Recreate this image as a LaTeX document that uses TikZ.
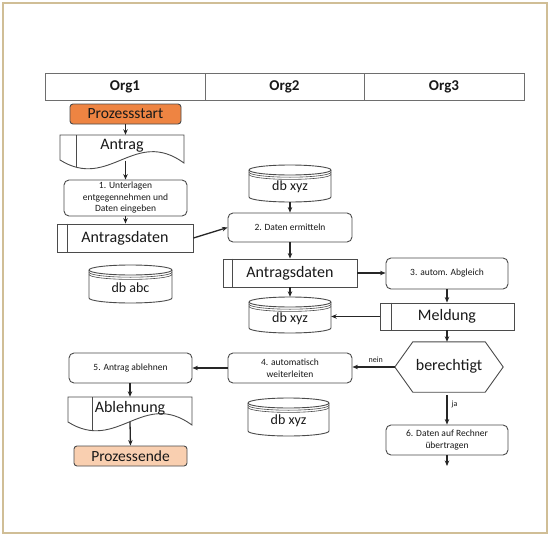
\documentclass[tikz,border=0pt]{standalone}
\usepackage{fontspec}
\setmainfont{Carlito}
\usetikzlibrary{arrows.meta,calc}
\definecolor{ln}{RGB}{75,75,75}
\definecolor{hdrln}{RGB}{110,110,110}
\definecolor{frm}{RGB}{208,190,150}
\definecolor{orangeA}{RGB}{238,132,66}
\definecolor{orangeB}{RGB}{249,207,176}
\definecolor{txt}{RGB}{25,25,25}
\tikzset{
  box/.style={draw=ln,line width=0.9pt,rounded corners=5pt,fill=white,align=center,text=txt,
    font=\fontsize{9.5}{11.5}\selectfont,inner sep=0pt},
  term/.style={draw=ln,line width=0.9pt,rounded corners=3pt,text=txt,
    font=\fontsize{15.5}{17}\selectfont,inner sep=0pt},
  databox/.style={draw=ln,line width=0.9pt,fill=white,text=txt,font=\fontsize{16}{18}\selectfont,inner sep=0pt},
  hdr/.style={draw=hdrln,line width=0.9pt,font=\bfseries\fontsize{15}{17}\selectfont,text=txt,inner sep=0pt},
  shp/.style={draw=ln,line width=0.9pt,fill=white},
  bigtext/.style={text=txt,font=\fontsize{16}{18}\selectfont,inner sep=0pt},
  dbtext/.style={text=txt,font=\fontsize{14}{16}\selectfont,inner sep=0pt},
  small/.style={text=txt,font=\fontsize{8}{9}\selectfont,inner sep=0pt},
  arr/.style={-{Stealth[length=5.5pt,width=4.5pt]},line width=1.3pt,draw=black!85},
}
% cylinder: name, cx, cy, w, h, text
\newcommand{\dbcyl}[6]{%
  \begin{scope}[shift={(#2,#3)}]
    \filldraw[shp] (-#4/2,-#5/2+5) arc[start angle=180,end angle=0,x radius=#4/2*1pt,y radius=5pt]
      -- (#4/2,#5/2-5) arc[start angle=0,end angle=-180,x radius=#4/2*1pt,y radius=5pt] -- cycle;
    \draw[shp,fill=none] (-#4/2,-#5/2+5) arc[start angle=180,end angle=360,x radius=#4/2*1pt,y radius=5pt];
    \draw[draw=ln,line width=0.6pt] (-#4/2,-#5/2+7.2) arc[start angle=180,end angle=360,x radius=#4/2*1pt,y radius=5pt];
    \draw[draw=ln,line width=0.6pt] (-#4/2,-#5/2+9.4) arc[start angle=180,end angle=360,x radius=#4/2*1pt,y radius=5pt];
  \end{scope}
  \node[minimum width=#4pt,minimum height=#5pt,inner sep=0pt] (#1) at (#2,#3) {};
  \node[dbtext] (#1t) at (#2,#3+3.5) {#6};
}
% document: name, x0, y0, w, (unused), text box height, inner line offset, text
\newcommand{\docshape}[8]{%
  \begin{scope}[shift={(#2,#3)}]
    \filldraw[shp] (0,0) -- (#4,0) -- (#4,28)
      .. controls (0.6*#4,-8) and (0.4*#4,56) .. (0,25) -- cycle;
    \begin{scope}
      \clip (0,0) -- (#4,0) -- (#4,28)
        .. controls (0.6*#4,-8) and (0.4*#4,56) .. (0,25) -- cycle;
      \draw[draw=ln,line width=0.9pt] (#7,0) -- (#7,45);
    \end{scope}
  \end{scope}
  \node[bigtext,minimum width=#4pt,minimum height=#6pt] (#1) at (#2+#4/2,#3+#6/2) {#8};
}
\begin{document}
\begin{tikzpicture}[x=1pt,y=-1pt]
\useasboundingbox (0,0) rectangle (550,536);
\fill[white] (0,0) rectangle (550,536);
\draw[frm,line width=2pt] (2.5,2.5) rectangle (547,533);

% header
\node[hdr,minimum width=160pt,minimum height=27pt] (org1) at (125,86.5) {Org1};
\node[hdr,minimum width=159pt,minimum height=27pt] (org2) at (284.5,86.5) {Org2};
\node[hdr,minimum width=160pt,minimum height=27pt] (org3) at (444,86.5) {Org3};

% Org1 column
\node[term,fill=orangeA,minimum width=111pt,minimum height=20pt] (ps) at (125.5,114) {Prozessstart};
\docshape{antrag}{60}{135}{124}{35}{21}{16.5}{Antrag}
\node[box,minimum width=123pt,minimum height=36pt] (b1) at (125.5,198) {1. Unterlagen\\entgegennehmen und\\Daten eingeben};
\node[databox,minimum width=136pt,minimum height=28pt] (ad1) at (125,238) {Antragsdaten};
\draw[draw=ln,line width=0.9pt] ([xshift=11pt]ad1.north west) -- ([xshift=11pt]ad1.south west);
\dbcyl{dbabc}{130.5}{284}{83}{38}{db abc}
\node[box,minimum width=123pt,minimum height=30pt] (b5) at (130.5,368) {5. Antrag ablehnen};
\docshape{abl}{68}{397}{124}{36}{22}{24}{Ablehnung}
\node[term,fill=orangeB,minimum width=113pt,minimum height=20pt] (pe) at (130.5,456) {Prozessende};

% Org2 column
\dbcyl{dbtop}{290}{183.5}{82}{37}{db xyz}
\node[box,minimum width=124pt,minimum height=29pt] (b2) at (290,227.5) {2. Daten ermitteln};
\node[databox,minimum width=134pt,minimum height=28pt] (ad2) at (290,273) {Antragsdaten};
\draw[draw=ln,line width=0.9pt] ([xshift=10pt]ad2.north west) -- ([xshift=10pt]ad2.south west);
\dbcyl{dbmid}{290}{315}{82}{36}{db xyz}
\node[box,minimum width=124pt,minimum height=30pt] (b4) at (290,368) {4. automatisch\\weiterleiten};
\dbcyl{dbbot}{288.5}{417}{81}{38}{db xyz}

% Org3 column
\node[box,minimum width=122pt,minimum height=31pt] (b3) at (447,273.5) {3. autom. Abgleich};
\node[databox,minimum width=134pt,minimum height=27pt] (meld) at (447,316.5) {Meldung};
\draw[draw=ln,line width=0.9pt] ([xshift=12pt]meld.north west) -- ([xshift=12pt]meld.south west);
\node[minimum width=108pt,minimum height=50pt,inner sep=0pt] (ber) at (449,367) {};
\draw[shp] (ber.west) -- ($(ber.north west)+(18,0)$) -- ($(ber.north east)+(-18,0)$) -- (ber.east)
  -- ($(ber.south east)+(-18,0)$) -- ($(ber.south west)+(18,0)$) -- cycle;
\node[bigtext] (bert) at (449,366) {berechtigt};
\node[box,minimum width=122pt,minimum height=30pt] (b6) at (447,440) {6. Daten auf Rechner\\übertragen};
\coordinate (endpt) at (447,466);

% connectors
\draw[arr] (ps.south) -- (ps.south |- antrag.north);
\draw[arr] ($(b1.north |- antrag.south)+(0,4.5)$) -- (b1.north);
\draw[arr] (b1.south) -- (b1.south |- ad1.north);
\draw[arr] (ad1.east) -- (b2.west);
\draw[arr] (dbtop.south) -- (b2.north);
\draw[arr] (b2.south) -- (ad2.north);
\draw[arr] (ad2.south) -- (dbmid.north);
\draw[arr] (ad2.east) -- (b3.west |- ad2.east);
\draw[arr] (b3.south) -- (meld.north);
\draw[arr] (meld.west) -- (dbmid.east |- meld.west);
\draw[arr] (meld.south) -- (meld.south |- ber.north);
\draw[arr] (ber.west) -- node[small,above=4pt,pos=0.45] {nein} (b4.east |- ber.west);
\draw[arr] ($(b6.north |- ber.south)+(0,3)$) -- node[small,right=4pt,pos=0.3] {ja} (b6.north);
\draw[arr] (b6.south) -- (endpt);
\draw[arr] (b4.west) -- (b5.east);
\draw[arr] (b5.south -| abl.south) -- (abl.south |- abl.north);
\draw[arr] ($(abl.south)+(0,3)$) -- (pe.north);
\end{tikzpicture}
\end{document}
